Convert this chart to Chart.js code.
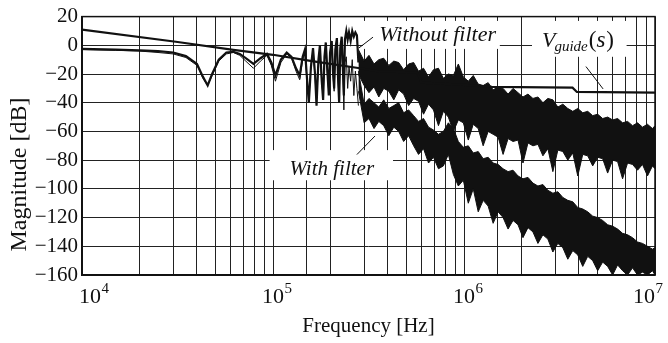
<!DOCTYPE html>
<html>
<head>
<meta charset="utf-8">
<style>
  html, body { margin: 0; padding: 0; background: #fff; }
</style>
<script src="https://cdn.jsdelivr.net/npm/chart.js@4/dist/chart.umd.min.js"></script>
</head>
<body>
<canvas id="chart" width="668" height="343"></canvas>
<script>
// Frequencies in kHz, magnitudes in dB

// low frequency part (both lines resonate, nearly on top of each other)
const lowFreq = [10, 15, 20, 25, 30, 35, 40, 43, 45.5, 48,
  52, 57, 62, 67, 72, 79, 86, 93, 98, 103,
  110, 118, 125, 132, 138, 143, 147, 151, 154, 158,
  162, 166, 169, 173, 176, 180, 183, 186, 189, 193,
  196, 199, 203, 206, 209, 212, 216, 219, 222, 225,
  229, 232, 235, 238, 242, 246, 250, 255, 260, 265,
  270, 275, 280];
const withoutLow = [-2.5, -3, -3.5, -4, -5, -7.5, -13, -22, -28, -20,
  -10, -5, -4.5, -6, -9, -13, -9, -6, -12, -21,
  -10, -5, -8, -16, -21, -8, -3, -25, -40, -15,
  -2, -20, -42, -10, 0, -25, -38, -8, 2, -20,
  -35, -5, 3, -18, -30, -3, 5, -22, -40, -2,
  6, -15, -35, 4, 10, 4, 9, 3, 10, 6,
  9, 7, -12];
const withLow = [-3, -3.5, -4, -5, -6, -8.5, -14, -23, -28, -21,
  -11, -6, -5, -7, -11, -16, -11, -7, -14, -25,
  -12, -6, -9, -18, -24, -10, -5, -27, -38, -14,
  -4, -22, -40, -12, -3, -26, -36, -10, -2, -22,
  -33, -8, -3, -20, -32, -6, -2, -24, -38, -8,
  -4, -18, -45, -12, -8, -30, -15, -25, -10, -35,
  -18, -30, -42];

// high frequency part: noisy, kept as upper / lower edge of the band
const bandFreq = [280, 300, 318, 338, 358, 380, 404, 429, 455, 483,
  513, 545, 578, 614, 652, 692, 735, 780, 828, 880,
  934, 992, 1053, 1118, 1187, 1260, 1338, 1421, 1509, 1602,
  1701, 1806, 1918, 2036, 2162, 2296, 2438, 2589, 2749, 2919,
  3100, 3292, 3495, 3712, 3941, 4185, 4444, 4719, 5011, 5321,
  5650, 6000, 6371, 6765, 7184, 7628, 8100, 8601, 9133, 9700,
  10000];
const withoutTop = [-3, -11, -7, -13, -10, -9, -14, -11, -12, -17,
  -13, -12, -18, -16, -22, -17, -16, -23, -20, -21,
  -13, -22, -25, -21, -27, -28, -26, -31, -29, -30,
  -34, -30, -33, -36, -34, -37, -36, -40, -37, -38,
  -43, -41, -44, -46, -44, -47, -46, -49, -48, -51,
  -50, -52, -51, -54, -53, -56, -54, -57, -55, -58,
  -56];
const withoutBottom = [-20, -28, -33, -29, -36, -30, -32, -38, -31, -34,
  -42, -37, -39, -48, -41, -45, -56, -46, -50, -60,
  -52, -54, -66, -55, -58, -70, -60, -62, -64, -76,
  -65, -67, -66, -82, -68, -70, -69, -77, -72, -88,
  -73, -74, -80, -75, -91, -76, -77, -84, -78, -79,
  -89, -80, -81, -93, -82, -83, -87, -83, -91, -84,
  -86];
const withTop = [-18, -41, -37, -40, -43, -38, -44, -42, -40, -47,
  -45, -49, -53, -51, -57, -59, -62, -60, -54, -58,
  -67, -71, -70, -75, -74, -79, -78, -82, -83, -86,
  -88, -87, -91, -93, -92, -96, -98, -97, -101, -103,
  -102, -106, -108, -109, -113, -114, -116, -119, -120, -122,
  -125, -126, -128, -131, -132, -134, -137, -138, -140, -142,
  -141];
const withBottom = [-32, -54, -51, -58, -53, -56, -63, -57, -60, -67,
  -63, -70, -76, -72, -82, -78, -86, -84, -76, -90,
  -98, -94, -110, -100, -116, -108, -112, -124, -116, -120,
  -128, -122, -125, -134, -127, -130, -138, -132, -135, -144,
  -138, -141, -149, -143, -146, -154, -147, -150, -157, -151,
  -154, -160, -153, -157, -160, -155, -160, -158, -160, -157,
  -160];

// V_guide(s)
const guideFreq = [10, 31, 62, 100, 160, 285, 350, 570, 600, 1000, 1400, 3700, 3900, 10000];
const guideDb = [11, 2.5, -3.2, -6.6, -11, -16, -18, -19, -26, -27.5, -29, -29.5, -32.5, -33];

const xTickValues = [1e4, 1e5, 1e6, 1e7];
const yTickStep = 20;

const SERIF = '"Liberation Serif", "Times New Roman", serif';
const INK = '#111';

function toPoints(freqs, values) {
  return freqs.map((f, i) => ({ x: f * 1000, y: values[i] }));
}

function lineSet(freqs, values, width, extra) {
  return Object.assign({
    data: toPoints(freqs, values),
    borderColor: INK,
    borderWidth: width,
    pointRadius: 0,
    tension: 0,
    fill: false,
  }, extra || {});
}

// boxes, labels and leader lines, given in data units
const notes = {
  without: { box: [296e3, 1.54e6, 17, -2.5], text: [360e3, 3], lead: [334e3, 5.7, 282e3, -1.8] },
  guide: { box: [2.27e6, 7.1e6, 17, -8], text: [2.56e6, -1.1], lead: [4.35e6, -14.8, 5.35e6, -30.4] },
  withF: { box: [96e3, 425e3, -73, -94], text: [122e3, -90.4], lead: [275e3, -76.1, 342e3, -63.2] },
};

const notePlugin = {
  id: 'notes',
  beforeDatasetsDraw(chart) {
    const { ctx, scales: { x, y } } = chart;
    ctx.save();
    ctx.fillStyle = '#fff';
    Object.values(notes).forEach((n) => {
      const [f0, f1, d0, d1] = n.box;
      const x0 = x.getPixelForValue(f0), x1 = x.getPixelForValue(f1);
      const y0 = y.getPixelForValue(d0), y1 = y.getPixelForValue(d1);
      ctx.fillRect(x0, y0, x1 - x0, y1 - y0);
    });
    ctx.restore();
  },
  afterDatasetsDraw(chart) {
    const { ctx, scales: { x, y }, chartArea: a } = chart;
    ctx.save();
    // leader lines
    ctx.strokeStyle = INK;
    ctx.lineWidth = 1;
    Object.values(notes).forEach((n) => {
      const [f0, d0, f1, d1] = n.lead;
      ctx.beginPath();
      ctx.moveTo(x.getPixelForValue(f0), y.getPixelForValue(d0));
      ctx.lineTo(x.getPixelForValue(f1), y.getPixelForValue(d1));
      ctx.stroke();
    });

    ctx.fillStyle = INK;
    ctx.textBaseline = 'alphabetic';
    ctx.textAlign = 'left';
    ctx.font = 'italic 22px ' + SERIF;
    let t = notes.without.text;
    ctx.fillText('Without filter', x.getPixelForValue(t[0]), y.getPixelForValue(t[1]));
    ctx.font = 'italic 21px ' + SERIF;
    t = notes.withF.text;
    ctx.fillText('With filter', x.getPixelForValue(t[0]), y.getPixelForValue(t[1]));

    // V_guide(s)
    t = notes.guide.text;
    let px = x.getPixelForValue(t[0]);
    const py = y.getPixelForValue(t[1]);
    ctx.font = 'italic 22px ' + SERIF;
    ctx.fillText('V', px, py);
    px += ctx.measureText('V').width - 1;
    ctx.font = 'italic 15px ' + SERIF;
    ctx.fillText('guide', px, py + 4);
    px += ctx.measureText('guide').width + 1;
    ctx.font = '23px ' + SERIF;
    ctx.fillText('(', px, py);
    px += ctx.measureText('(').width;
    ctx.font = 'italic 23px ' + SERIF;
    ctx.fillText('s', px, py);
    px += ctx.measureText('s').width + 1;
    ctx.font = '23px ' + SERIF;
    ctx.fillText(')', px, py);

    // frame
    ctx.lineWidth = 1.5;
    ctx.strokeRect(a.left, a.top, a.right - a.left, a.bottom - a.top);
    ctx.restore();
  },
  afterDraw(chart) {
    const { ctx, scales: { x, y }, chartArea: a } = chart;
    ctx.save();
    ctx.fillStyle = INK;
    ctx.textBaseline = 'alphabetic';
    ctx.textAlign = 'left';
    // 10^n tick labels with a raised exponent
    xTickValues.forEach((v, i) => {
      const px = x.getPixelForValue(v);
      const e = String(Math.round(Math.log10(v)));
      ctx.font = '22px ' + SERIF;
      const w = ctx.measureText('10').width;
      let left = px - w / 2;
      if (i === 0) left = a.left - 3;
      if (i === xTickValues.length - 1) left = a.right - w;
      ctx.fillText('10', left, a.bottom + 28);
      ctx.font = '15px ' + SERIF;
      ctx.fillText(e, left + w + 0.5, a.bottom + 18);
    });
    // y axis title, sitting a bit below the middle of the plot
    ctx.translate(20, y.getPixelForValue(-90));
    ctx.rotate(-Math.PI / 2);
    ctx.textAlign = 'center';
    ctx.textBaseline = 'middle';
    ctx.font = '24px ' + SERIF;
    ctx.fillText('Magnitude [dB]', 0, 0);
    ctx.restore();
  },
};

const ctx = document.getElementById('chart').getContext('2d');

new Chart(ctx, {
  type: 'line',
  data: {
    datasets: [
      lineSet(guideFreq, guideDb, 2.2),
      lineSet(lowFreq, withoutLow, 2.2),
      lineSet(lowFreq, withLow, 1),
      lineSet(bandFreq, withoutTop, 1),
      lineSet(bandFreq, withoutBottom, 1, { fill: '-1', backgroundColor: INK }),
      lineSet(bandFreq, withTop, 1),
      lineSet(bandFreq, withBottom, 1, { fill: '-1', backgroundColor: INK }),
    ],
  },
  options: {
    responsive: false,
    animation: false,
    layout: { padding: { top: 11, right: 13, left: 0, bottom: 0 } },
    plugins: {
      legend: { display: false },
      tooltip: { enabled: false },
    },
    scales: {
      x: {
        type: 'logarithmic',
        min: 1e4,
        max: 1e7,
        grid: { color: '#222', lineWidth: 1, drawTicks: false },
        border: { color: INK, width: 1.5 },
        ticks: { display: false, autoSkip: false },
        title: {
          display: true,
          text: 'Frequency [Hz]',
          color: INK,
          font: { family: SERIF, size: 21 },
          padding: { top: 0, bottom: 4 },
        },
        afterFit: (s) => { s.height = 68; },
      },
      y: {
        min: -160,
        max: 20,
        grid: { color: '#222', lineWidth: 1, drawTicks: false },
        border: { color: INK, width: 1.5 },
        ticks: {
          stepSize: yTickStep,
          padding: 4,
          color: INK,
          font: { family: SERIF, size: 21 },
          callback: (v) => (v < 0 ? '\u2212' + Math.abs(v) : String(v)),
        },
        title: { display: false },
        afterFit: (s) => { s.width = 82; },
      },
    },
  },
  plugins: [notePlugin],
});
</script>
</body>
</html>
